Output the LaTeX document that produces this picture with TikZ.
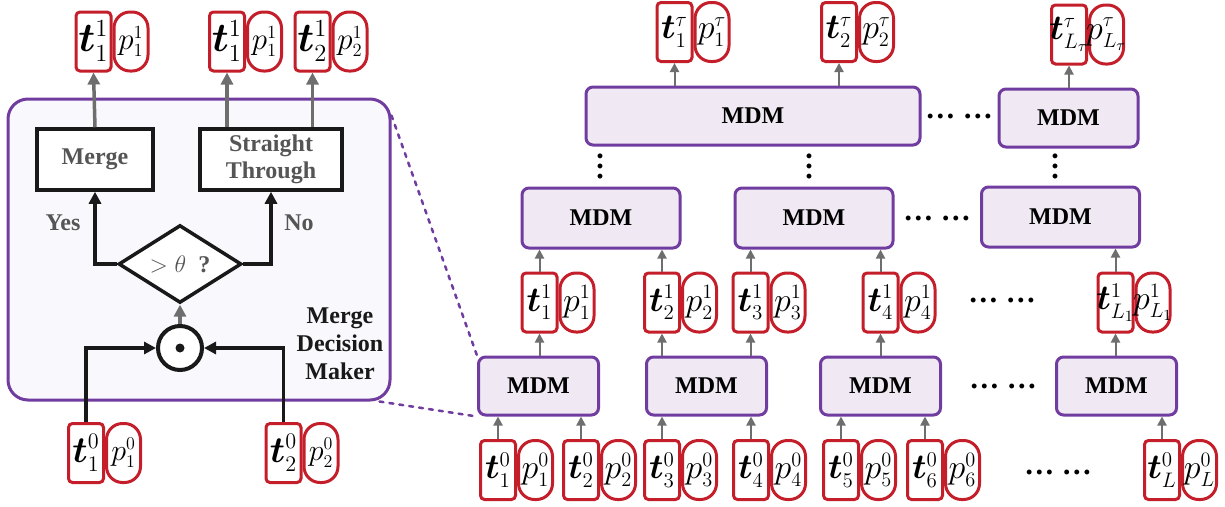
\RequirePackage{fix-cm}
\documentclass[tikz,border=0pt]{standalone}
\usepackage[no-math]{fontspec}
\setmainfont{Liberation Serif}
\usepackage{bm}
\usetikzlibrary{positioning,arrows.meta,shapes.geometric,calc}

\definecolor{tokred}{RGB}{196,30,42}
\definecolor{mdmpurple}{RGB}{112,60,160}
\definecolor{mdmfill}{RGB}{240,233,243}
\definecolor{panelfill}{RGB}{249,248,252}
\definecolor{arrgray}{RGB}{110,110,110}
\definecolor{txtgray}{RGB}{85,85,85}

% token labels: set at 20pt with small scripts, then blown up
\DeclareMathSizes{20}{20}{12}{9}
\newcommand{\tokt}[3][1.75]{\makebox[0pt]{\scalebox{#1}{$\bm{t}^{#2}_{#3}$}}}
\newcommand{\tokp}[3][1.7]{\makebox[0pt]{\scalebox{#1}{$p^{#2}_{#3}$}}}

\tikzset{
  tbox/.style={draw=tokred, line width=3pt, rounded corners=4pt, fill=white,
    minimum width=35pt, minimum height=59pt, inner sep=0pt, font=\fontsize{20}{20}\selectfont},
  pbox/.style={draw=tokred, line width=3pt, rounded corners=16pt, fill=white,
    minimum width=34pt, minimum height=59pt, inner sep=0pt, font=\fontsize{20}{20}\selectfont},
  mdm/.style={draw=mdmpurple, line width=3pt, rounded corners=7pt, fill=mdmfill, minimum height=58pt},
  up/.style={draw=arrgray, line width=2pt, -{Triangle[length=9pt,width=9pt]}},
  bigup/.style={draw=arrgray, line width=3.5pt, -{Triangle[length=12pt,width=12pt]}},
  flow/.style={draw=black!90, line width=3.5pt, -{Triangle[length=12pt,width=12pt]}},
  opbox/.style={draw=black!90, line width=3.5pt, fill=white, minimum height=61pt, text=txtgray, align=center},
  hdots/.style={anchor=base, inner sep=0pt, font=\fontsize{30}{30}\selectfont\bfseries},
  vdots/.style={hdots, rotate=90},
  zoomline/.style={draw=mdmpurple, line width=2.5pt, line cap=round, dash pattern=on 4pt off 6pt},
}

\begin{document}
\begin{tikzpicture}[x=1pt,y=1pt,yscale=-1,font=\fontsize{24}{27}\selectfont\bfseries]
  \useasboundingbox (0,0) rectangle (1225,506);

  % merge decision maker, opened up
  \node[draw=mdmpurple, line width=3pt, rounded corners=20pt, fill=panelfill,
    minimum width=382pt, minimum height=301pt] (mdmbig) at (199,249.5) {};
  \node[opbox, minimum width=116pt] (merge) at (95,159.5) {Merge};
  \node[opbox, minimum width=142pt] (straight) at (271,159.5) {Straight\\Through};
  \node[diamond, draw=black!90, line width=3.5pt, fill=white, inner sep=0pt,
    minimum width=123pt, minimum height=69pt, text=txtgray] (test) at (180,264)
    {$>\theta$\ \ ?};
  \node[circle, draw=black!90, line width=4pt, fill=white, minimum size=44pt] (prod) at (180,348) {};
  \fill[black!90] (prod.center) circle[radius=4.5];

  \node[text=txtgray] (yes) at (63,223) {Yes};
  \node[text=txtgray] (no) at (299,223) {No};
  \node[align=center, text=black!90, font=\fontsize{24}{28}\selectfont\bfseries] (mdmname) at (340,344)
    {Merge\\Decision\\Maker};

  % tokens in and out of the module
  \node[tbox] (ta) at (93.5,41.5) {\tokt[2.05]{1}{1}};
  \node[pbox, right=0pt of ta] (pa) {\tokp[1.55]{1}{1}};
  \node[tbox] (tb) at (227,41.5) {\tokt[2.05]{1}{1}};
  \node[pbox, right=0pt of tb] (pb) {\tokp[1.55]{1}{1}};
  \node[tbox] (tc) at (312.5,41.5) {\tokt[2.05]{1}{2}};
  \node[pbox, right=0pt of tc] (pc) {\tokp[1.55]{1}{2}};
  \node[tbox] (td) at (86,453) {\tokt[1.85]{0}{1}};
  \node[pbox, right=0pt of td] (pd) {\tokp[1.5]{0}{1}};
  \node[tbox] (te) at (283.5,453) {\tokt[1.85]{0}{2}};
  \node[pbox, right=0pt of te] (pe) {\tokp[1.5]{0}{2}};

  \draw[flow] (td.north) |- (prod.west);
  \draw[flow] (te.north) |- (prod.east);
  \draw[bigup] (prod.north) -- (test.south);
  \draw[flow] (test.west) -| (merge.south);
  \draw[flow] (test.east) -| (straight.south);
  \draw[bigup] (merge.north) -- (ta.south);
  \draw[bigup] (straight.north -| tb) -- (tb.south);
  \draw[bigup] (straight.north -| tc) -- (tc.south);

  % first level of the tree
  \foreach \x/\i in {498/1,581/2,662/3,751/4,841/5,925/6,1162/L}{
    \node[tbox] (a\i) at (\x,470) {\tokt{0}{\i}};
    \node[pbox, right=0pt of a\i] (pa\i) {\tokp{0}{\i}};
  }
  \node[mdm, minimum width=120pt] (m1) at (538.5,386) {MDM};
  \node[mdm, minimum width=120pt] (m2) at (706.5,386) {MDM};
  \node[mdm, minimum width=120pt] (m3) at (880.5,386) {MDM};
  \node[mdm, minimum width=120pt] (m4) at (1116.5,386) {MDM};
  \foreach \i/\m in {1/m1,2/m1,3/m2,4/m2,5/m3,6/m3,L/m4}
    \draw[up] (a\i.north) -- (a\i |- \m.south);

  \foreach \x/\n/\i in {539.5/1/1,662/2/2,750.5/3/3,880.5/4/4,1115.5/L/{L_1}}{
    \node[tbox] (b\n) at (\x,302.5) {\tokt{1}{\i}};
    \node[pbox, right=0pt of b\n] (pb\n) {\tokp{1}{\i}};
  }
  \foreach \n/\m in {1/m1,2/m2,3/m2,4/m3,L/m4}
    \draw[up] (\m.north -| b\n) -- (b\n.south);

  % second level and the root
  \node[mdm, minimum width=158pt, minimum height=60pt] (n1) at (601,218) {MDM};
  \node[mdm, minimum width=158pt, minimum height=60pt] (n2) at (814,218) {MDM};
  \node[mdm, minimum width=158pt, minimum height=60pt] (n3) at (1060.5,217) {MDM};
  \foreach \n/\m in {1/n1,2/n1,3/n2,4/n2,L/n3}
    \draw[up] (b\n.north) -- (b\n |- \m.south);

  \node[mdm, minimum width=334pt] (r1) at (753,116) {MDM};
  \node[mdm, minimum width=139pt] (r2) at (1068.5,118) {MDM};

  \node[tbox] (c1) at (674.5,32) {\tokt{\tau}{1}};
  \node[pbox, right=0pt of c1] (pc1) {\tokp{\tau}{1}};
  \node[tbox] (c2) at (839,32) {\tokt{\tau}{2}};
  \node[pbox, right=0pt of c2] (pc2) {\tokp{\tau}{2}};
  \node[tbox] (cL) at (1069,34.5) {\tokt{\tau}{L_\tau}};
  \node[pbox, right=0pt of cL] (pcL) {\tokp{\tau}{L_\tau}};
  \draw[up] (r1.north -| c1) -- (c1.south);
  \draw[up] (r1.north -| c2) -- (c2.south);
  \draw[up] (r2.north -| cL) -- (cL.south);

  % elided parts
  \foreach \x in {602,811,1057}
    \node[vdots] at (\x,166) {…};
  \foreach \x/\y in {959/116,937/218,1002/300,1003/386,1058/472}
    \node[hdots] at (\x,\y+2.5) {… …};

  % zoom from the tree back to the module
  \draw[zoomline] ($(mdmbig.north east)+(0,18)$) -- (m1.north west);
  \draw[zoomline] ($(mdmbig.south east)+(-12,0)$) -- (m1.south west);
\end{tikzpicture}
\end{document}
